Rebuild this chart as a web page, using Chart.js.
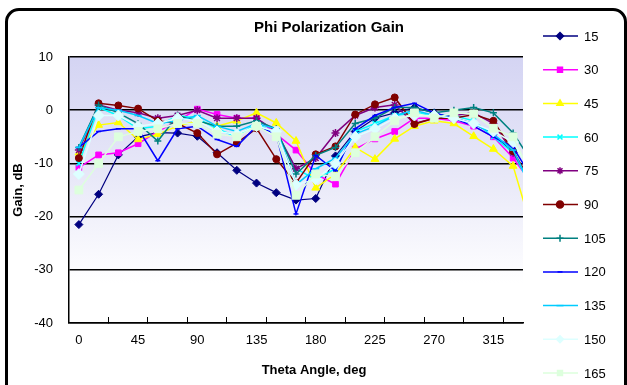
<!DOCTYPE html>
<html>
<head>
<meta charset="utf-8">
<script src="https://cdn.jsdelivr.net/npm/chart.js@4"></script>
<style>
  html, body { margin: 0; padding: 0; background: #fff; overflow: hidden; }
  #frame {
    position: absolute; left: 5px; top: 8px; width: 616px; height: 400px;
    border: 3px solid #000; border-radius: 14px;
  }
  #growthChart { position: absolute; left: 0; top: 0; }
</style>
</head>
<body>
<div id="frame"></div>
<canvas id="growthChart" width="627" height="385"></canvas>
<script>
// Theta angles (deg), one point every 15 deg
const angles = [0, 15, 30, 45, 60, 75, 90, 105, 120, 135, 150, 165,
                180, 195, 210, 225, 240, 255, 270, 285, 300, 315, 330, 345];

// Axis labels and the small tick marks between them
const labelAngles = [0, 45, 90, 135, 180, 225, 270, 315];
const markAngles = [22.5, 52.5, 82.5, 112.5, 142.5, 172.5, 202.5, 232.5, 262.5, 292.5, 322.5];

// Series names (phi angle)
const seriesNames = ["15", "30", "45", "60", "75", "90", "105", "120", "135", "150", "165"];

// Gain in dB
const gain15  = [-21.5, -15.8, -8.4, -5, -4.2, -4.3, -4.9, -8, -11.3, -13.7, -15.5, -16.9, -16.6, -8.6, -4, -1.5, -0.5, 0.5, -0.5, -1.5, -2.5, -4.5, -8, -14];
const gain30  = [-10.8, -8.4, -8, -6.3, -4, -2, 0.2, -0.8, -1.5, -1.5, -4.5, -7.5, -12, -13.9, -7.3, -5.4, -4, -1.5, -1.5, -2, -3, -5, -9, -14];
const gain45  = [-8, -2.8, -2.3, -5.5, -4.5, -3, -2, -3, -2, -0.5, -2.4, -5.8, -14.6, -12, -7, -9.2, -5.4, -3, -2, -2.5, -4.9, -7.3, -10.5, -23];
const gain60  = [-10, 0.5, -1, -3.5, -3, -1, -1.5, -3.5, -5, -2.5, -4.5, -11, -13, -11, -4, -2.5, -1, -0.5, -1, -1, -2, -5, -8, -15];
const gain75  = [-7.5, 1, 0, -0.5, -1.5, -1, 0, -1.5, -1.5, -1.5, -4, -11, -9, -4.3, -1, 0.5, 1, -2.5, -1.5, -1, -0.5, -2.5, -8, -14];
const gain90  = [-9, 1.3, 0.9, 0.3, -2, -2.5, -4.3, -8.3, -6.2, -3.4, -9.2, -13.7, -8.3, -6.8, -0.8, 1.1, 2.4, -2.6, -1.5, -1.5, -0.8, -2, -7.7, -14];
const gain105 = [-7, 1, -0.5, -2.5, -5.8, -1, -2, -3, -3, -2, -3.5, -12, -8.5, -7, -2.5, -1.5, 0.5, 0.5, -0.5, 0, 0.5, -0.5, -4.3, -10];
const gain120 = [-7, -4, -3.5, -3.5, -9.5, -3.5, -3, -5.5, -6.8, -3, -4.5, -19.5, -8.5, -11.4, -3.5, -1, 0.5, 1.3, -0.5, -1.5, -3, -5, -7, -13];
const gain135 = [-7, 0.5, 0, -1, -2.5, -2, -1, -3, -4, -2.5, -3.5, -14, -11, -9, -4.5, -3, -1, 0, -1, -1.5, -2.5, -4.5, -7.5, -15];
const gain150 = [-12, -1, -1, -3, -2.5, -1.5, -2, -4, -4.5, -3, -4, -14, -13, -10, -5, -3.5, -1.5, -1, -1, -1.5, -2.5, -4, -6, -12];
const gain165 = [-15, -10, -5, -4, -3.5, -2.5, -2.5, -4.5, -5, -3, -5, -16, -12, -12.5, -8, -5, -2, -0.5, -1.5, -0.5, -0.7, -3.4, -5, -13];

const allGains = [gain15, gain30, gain45, gain60, gain75, gain90, gain105, gain120, gain135, gain150, gain165];

// Excel-ish series look
const colors = ["#000080", "#FF00FF", "#FFFF00", "#00FFFF", "#800080", "#800000",
                "#008080", "#0000FF", "#00CCFF", "#DDFFFF", "#DDFFDD"];
const markers = ["rectRot", "rect", "triangle", "crossRot", "star", "circle",
                 "cross", "line", "line", "rectRot", "rect"];
const markerSize = [4, 4, 4.5, 3.5, 4, 3.5, 3.5, 2.5, 3.5, 5.5, 5.5];
const lineWidths = [1.2, 1.5, 1.5, 1.5, 1.5, 1.5, 1.5, 1.5, 1.5, 1.5, 1.5];

Chart.defaults.font.family = "'Liberation Sans', Arial, sans-serif";
Chart.defaults.color = "#000";

function markerBorder(style) {
  return ["cross", "crossRot", "star", "line"].includes(style) ? 1.5 : 1;
}

// ----------------------
// Background, titles, legend
// ----------------------

const chromePlugin = {
  id: "chrome",
  beforeDraw(chart) {
    const { ctx, chartArea: a } = chart;
    const g = ctx.createLinearGradient(0, a.top, 0, a.bottom);
    g.addColorStop(0, "#d4d4f3");
    g.addColorStop(0.45, "#e8e8f8");
    g.addColorStop(0.85, "#ffffff");
    ctx.save();
    ctx.fillStyle = g;
    ctx.fillRect(a.left, a.top, a.right - a.left, a.bottom - a.top);
    ctx.restore();
  },
  afterDraw(chart) {
    const ctx = chart.ctx;
    ctx.save();
    ctx.fillStyle = "#000";
    ctx.textAlign = "center";
    ctx.textBaseline = "middle";

    ctx.font = "bold 15px 'Liberation Sans', Arial, sans-serif";
    ctx.fillText("Phi Polarization Gain", 329, 28);

    ctx.font = "bold 13px 'Liberation Sans', Arial, sans-serif";
    ctx.fillText("Theta Angle, deg", 314, 370);

    ctx.save();
    ctx.translate(18, 190);
    ctx.rotate(-Math.PI / 2);
    ctx.fillText("Gain, dB", 0, 0);
    ctx.restore();

    // legend: line with marker, then the name
    ctx.font = "13px 'Liberation Sans', Arial, sans-serif";
    ctx.textAlign = "left";
    chart.data.datasets.forEach((ds, i) => {
      const y = 36 + i * 33.7;
      ctx.strokeStyle = ds.borderColor;
      ctx.fillStyle = ds.backgroundColor;
      ctx.lineWidth = 1.5;
      ctx.beginPath();
      ctx.moveTo(543, y);
      ctx.lineTo(578, y);
      ctx.stroke();
      Chart.helpers.drawPoint(ctx, {
        pointStyle: ds.pointStyle,
        radius: Math.min(ds.pointRadius, 3.5),
        rotation: 0,
        borderWidth: ds.pointBorderWidth
      }, 560, y);
      ctx.fillStyle = "#000";
      ctx.fillText(ds.label, 584, y + 1);
    });
    ctx.restore();
  }
};

const datasets = allGains.map((vals, i) => ({
  label: seriesNames[i],
  data: angles.map((a, k) => ({ x: a, y: vals[k] })),
  borderColor: colors[i],
  backgroundColor: colors[i],
  borderWidth: lineWidths[i],
  pointStyle: markers[i],
  pointRadius: markerSize[i],
  pointBorderWidth: markerBorder(markers[i]),
  pointBorderColor: colors[i],
  pointBackgroundColor: colors[i],
  tension: 0,
  order: allGains.length - i
}));

new Chart(document.getElementById("growthChart").getContext("2d"), {
  type: "line",
  data: { datasets },
  options: {
    responsive: false,
    animation: false,
    layout: { padding: { top: 57, right: 104, left: 0, bottom: 0 } },
    plugins: {
      legend: { display: false },
      title: { display: false },
      tooltip: { enabled: false }
    },
    scales: {
      x: {
        type: "linear",
        min: -7.5,
        max: 337.5,
        afterBuildTicks: s => {
          s.ticks = labelAngles.concat(markAngles).sort((a, b) => a - b).map(v => ({ value: v }));
        },
        afterFit: s => { s.height = 62; },
        ticks: {
          autoSkip: false,
          maxRotation: 0,
          padding: 16,
          font: { size: 13 },
          callback: v => labelAngles.includes(v) ? String(v) : ""
        },
        grid: {
          drawOnChartArea: false,
          tickLength: -6,
          tickWidth: 1,
          tickColor: c => labelAngles.includes(c.tick.value) ? "rgba(0,0,0,0)" : "#000"
        },
        border: { color: "#000", width: 1.5 }
      },
      y: {
        min: -40,
        max: 10,
        afterFit: s => { s.width = 69; },
        ticks: { stepSize: 10, padding: 16, font: { size: 13 } },
        grid: { color: "#000", lineWidth: 1.5, drawTicks: false },
        border: { color: "#000", width: 1.5 }
      }
    }
  },
  plugins: [chromePlugin]
});
</script>
</body>
</html>
